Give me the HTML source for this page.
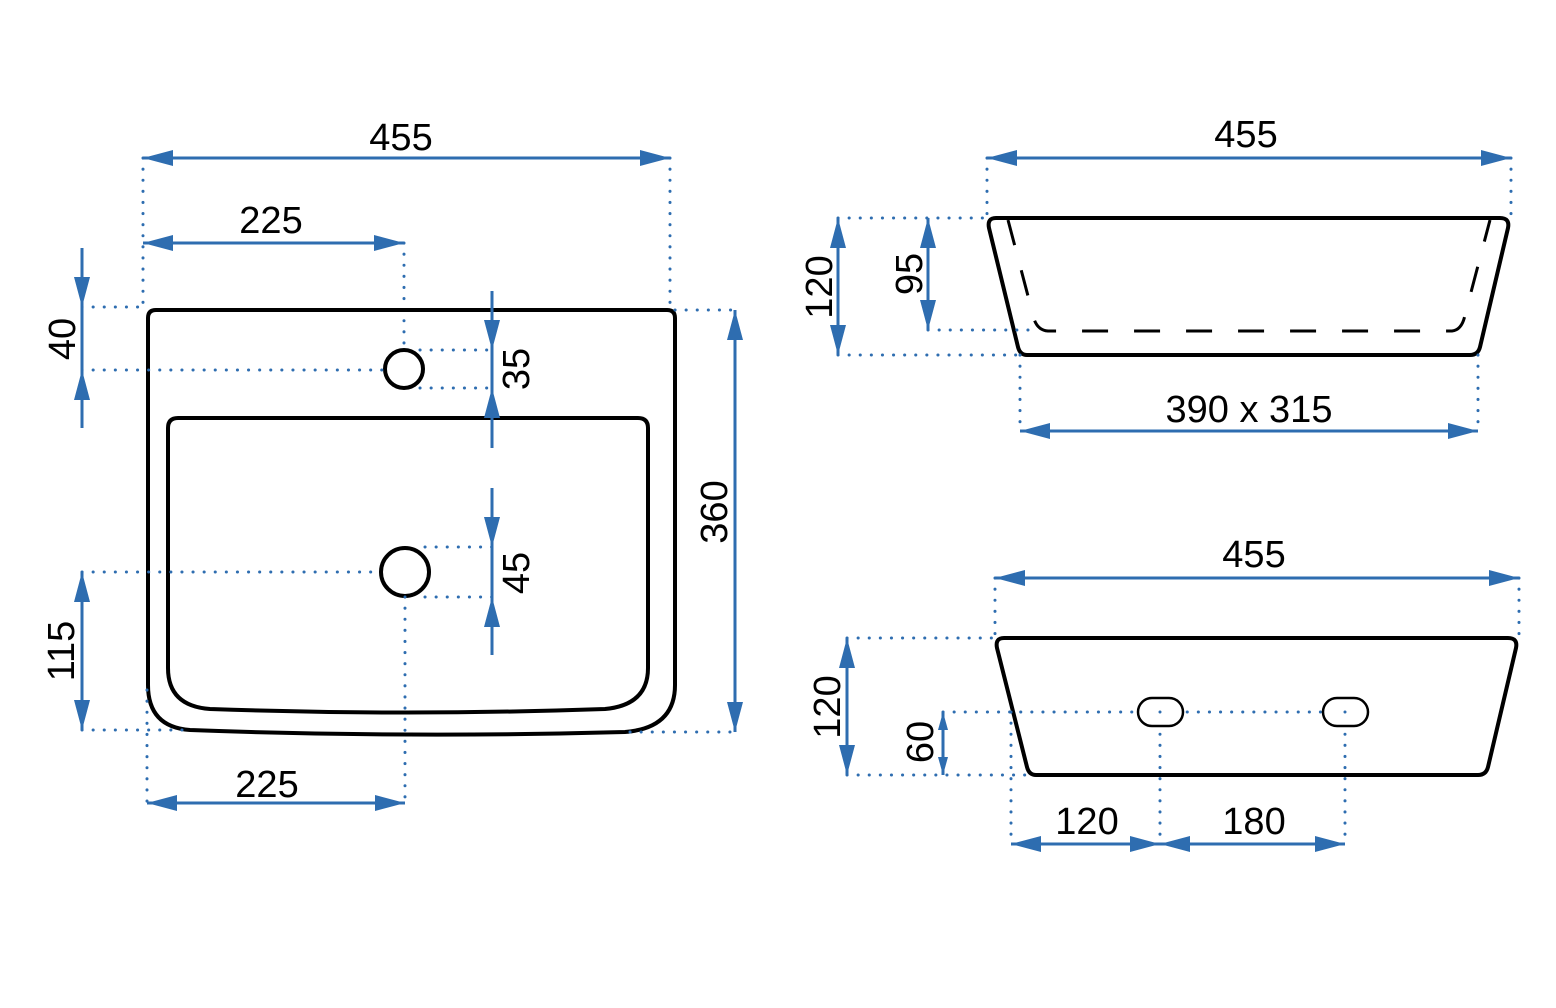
<!DOCTYPE html>
<html><head><meta charset="utf-8"><style>
html,body{margin:0;padding:0;background:#fff;}
svg{display:block}
text{font-family:"Liberation Sans",sans-serif;font-size:38px;fill:#000;}
.d{stroke:#2e6db0;stroke-width:3;stroke-dasharray:0.1 11;stroke-linecap:round;fill:none}
.l{stroke:#2e6db0;stroke-width:3;fill:none}
.s{stroke:#000;stroke-width:4;fill:none;stroke-linejoin:round}
</style></head><body>
<svg width="1556" height="1008" viewBox="0 0 1556 1008" xmlns="http://www.w3.org/2000/svg">
<defs>
<marker id="a" markerUnits="userSpaceOnUse" markerWidth="32" markerHeight="18" refX="30" refY="8" orient="auto-start-reverse"><path d="M0,0 L30,8 L0,16 Z" fill="#2e6db0"/></marker>
<marker id="b" markerUnits="userSpaceOnUse" markerWidth="20" markerHeight="12" refX="18" refY="5" orient="auto-start-reverse"><path d="M0,0 L18,5 L0,10 Z" fill="#2e6db0"/></marker>
</defs>

<!-- LEFT VIEW -->
<path class="d" d="M143,158 V310 M670,158 V310 M404,243 V350"/>
<line class="l" x1="143" y1="158" x2="670" y2="158" marker-start="url(#a)" marker-end="url(#a)"/>
<text x="401" y="150" text-anchor="middle">455</text>
<line class="l" x1="143" y1="243" x2="404" y2="243" marker-start="url(#a)" marker-end="url(#a)"/>
<text x="271" y="233" text-anchor="middle">225</text>

<path class="s" d="M156,310 H667 Q675,310 675,318 V685 Q675,728 625,732 Q405,738 190,730 Q148,727 148,685 V318 Q148,310 156,310 Z"/>
<path class="s" d="M178,418 H638 Q648,418 648,428 V668 Q648,705 605,709 Q405,716 210,709 Q168,706 168,668 V428 Q168,418 178,418 Z"/>
<circle class="s" cx="404" cy="369" r="19"/>
<circle class="s" cx="405" cy="572" r="24"/>

<!-- 40 -->
<path class="d" d="M82,307 H143 M82,370 H385"/>
<line class="l" x1="82" y1="248" x2="82" y2="307" marker-end="url(#a)"/>
<line class="l" x1="82" y1="428" x2="82" y2="370" marker-end="url(#a)"/>
<line class="l" x1="82" y1="307" x2="82" y2="370"/>
<text transform="translate(75,339) rotate(-90)" text-anchor="middle">40</text>
<!-- 35 -->
<path class="d" d="M420,350 H492 M420,388 H492"/>
<line class="l" x1="492" y1="291" x2="492" y2="350" marker-end="url(#a)"/>
<line class="l" x1="492" y1="448" x2="492" y2="388" marker-end="url(#a)"/>
<line class="l" x1="492" y1="350" x2="492" y2="388"/>
<text transform="translate(529,369) rotate(-90)" text-anchor="middle">35</text>
<!-- 45 -->
<path class="d" d="M425,547 H492 M425,597 H492"/>
<line class="l" x1="492" y1="488" x2="492" y2="547" marker-end="url(#a)"/>
<line class="l" x1="492" y1="655" x2="492" y2="597" marker-end="url(#a)"/>
<line class="l" x1="492" y1="547" x2="492" y2="597"/>
<text transform="translate(529,573) rotate(-90)" text-anchor="middle">45</text>
<!-- 115 -->
<path class="d" d="M82,572 H380 M82,730 H185"/>
<line class="l" x1="82" y1="572" x2="82" y2="730" marker-start="url(#a)" marker-end="url(#a)"/>
<text transform="translate(74,651) rotate(-90)" text-anchor="middle">115</text>
<!-- 360 -->
<path class="d" d="M675,310 H735 M630,732 H735"/>
<line class="l" x1="735" y1="310" x2="735" y2="732" marker-start="url(#a)" marker-end="url(#a)"/>
<text transform="translate(727,512) rotate(-90)" text-anchor="middle">360</text>
<!-- 225 bottom -->
<path class="d" d="M147,690 V803 M405,597 V803"/>
<line class="l" x1="147" y1="803" x2="405" y2="803" marker-start="url(#a)" marker-end="url(#a)"/>
<text x="267" y="797" text-anchor="middle">225</text>

<!-- TOP RIGHT -->
<path class="d" d="M987,158 V218 M1511,158 V218"/>
<line class="l" x1="987" y1="158" x2="1511" y2="158" marker-start="url(#a)" marker-end="url(#a)"/>
<text x="1246" y="147" text-anchor="middle">455</text>
<path class="s" d="M996,218 H1500 Q1510,218 1508,228 L1480,347 Q1478,355 1470,355 H1027 Q1020,355 1018,347 L989,228 Q987,218 996,218 Z"/>
<path d="M1008,220 L1033,315 Q1036,330 1048,331 H1452 Q1462,330 1465,315 L1490,220" stroke="#000" stroke-width="3" fill="none" stroke-dasharray="26 26"/>
<path class="d" d="M838,218 H987 M838,355 H1020 M928,330 H1035"/>
<line class="l" x1="838" y1="218" x2="838" y2="355" marker-start="url(#a)" marker-end="url(#a)"/>
<text transform="translate(832,287) rotate(-90)" text-anchor="middle">120</text>
<line class="l" x1="928" y1="218" x2="928" y2="330" marker-start="url(#a)" marker-end="url(#a)"/>
<text transform="translate(922,274) rotate(-90)" text-anchor="middle">95</text>
<path class="d" d="M1020,355 V431 M1478,355 V431"/>
<line class="l" x1="1020" y1="431" x2="1478" y2="431" marker-start="url(#a)" marker-end="url(#a)"/>
<text x="1249" y="422" text-anchor="middle">390 x 315</text>

<!-- BOTTOM RIGHT -->
<path class="d" d="M995,578 V638 M1519,578 V638"/>
<line class="l" x1="995" y1="578" x2="1519" y2="578" marker-start="url(#a)" marker-end="url(#a)"/>
<text x="1254" y="567" text-anchor="middle">455</text>
<path class="s" d="M1004,638 H1508 Q1518,638 1516,648 L1488,767 Q1486,775 1478,775 H1036 Q1029,775 1027,767 L997,648 Q995,638 1004,638 Z"/>
<path class="d" d="M943,712 H1345 M847,638 H995 M847,775 H1028 M1011,712 V844 M1160,712 V844 M1345,712 V844"/>
<rect x="1138" y="698" width="45" height="28" rx="14" fill="#fff" stroke="#000" stroke-width="2.5"/>
<rect x="1323" y="698" width="45" height="28" rx="14" fill="#fff" stroke="#000" stroke-width="2.5"/>
<circle cx="1160" cy="712" r="1.5" fill="#2e6db0"/><circle cx="1345" cy="712" r="1.5" fill="#2e6db0"/>
<line class="l" x1="847" y1="638" x2="847" y2="775" marker-start="url(#a)" marker-end="url(#a)"/>
<text transform="translate(840,707) rotate(-90)" text-anchor="middle">120</text>
<line class="l" x1="943" y1="712" x2="943" y2="775" marker-start="url(#b)" marker-end="url(#b)"/>
<text transform="translate(933,742) rotate(-90)" text-anchor="middle">60</text>
<line class="l" x1="1011" y1="844" x2="1160" y2="844" marker-start="url(#a)" marker-end="url(#a)"/>
<line class="l" x1="1160" y1="844" x2="1345" y2="844" marker-start="url(#a)" marker-end="url(#a)"/>
<text x="1087" y="834" text-anchor="middle">120</text>
<text x="1254" y="834" text-anchor="middle">180</text>
</svg>
</body></html>
